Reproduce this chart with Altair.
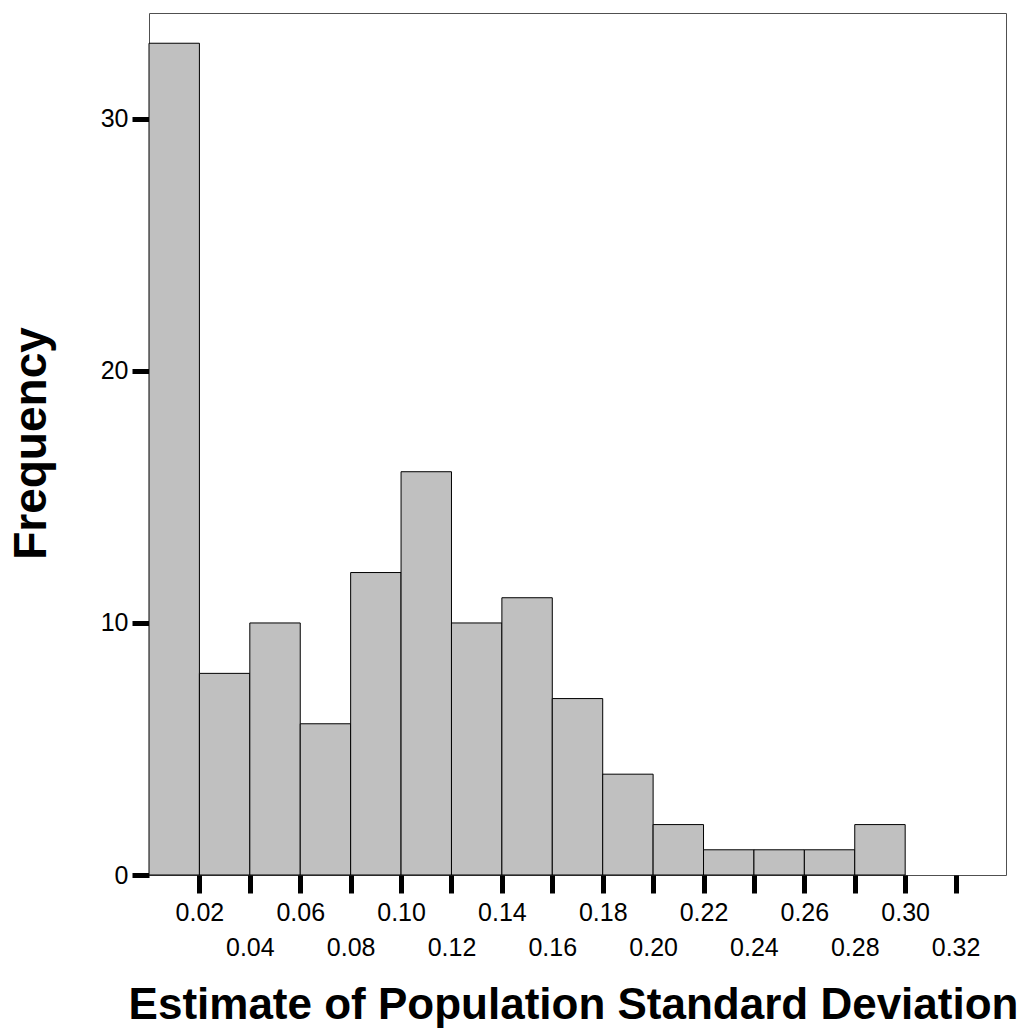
import altair as alt
import pandas as pd

# Histogram data (bins of width 0.02)
bin_start = [0.00, 0.02, 0.04, 0.06, 0.08, 0.10, 0.12, 0.14, 0.16, 0.18, 0.20, 0.22, 0.24, 0.26, 0.28]
counts = [33, 8, 10, 6, 12, 16, 10, 11, 7, 4, 2, 1, 1, 1, 2]
bin_width = 0.02
x_ticks = [0.02, 0.04, 0.06, 0.08, 0.10, 0.12, 0.14, 0.16, 0.18, 0.20, 0.22, 0.24, 0.26, 0.28, 0.30, 0.32]
y_ticks = [0, 10, 20, 30]

df = pd.DataFrame({
    "start": bin_start,
    "end": [round(s + bin_width, 2) for s in bin_start],
    "count": counts,
})

FONT = "Liberation Sans"

chart = alt.Chart(df).mark_bar(
    color="#c0c0c0", stroke="black", strokeWidth=1
).encode(
    x=alt.X(
        "start:Q",
        scale=alt.Scale(domain=[0, 0.34], nice=False, zero=False),
        axis=alt.Axis(
            values=x_ticks,
            format=".2f",
            title="Estimate of Population Standard Deviation",
            grid=False,
            domain=False,
            tickSize=18,
            tickWidth=5,
            tickColor="black",
            labelFont=FONT,
            labelFontSize=25,
            labelColor="black",
            labelPadding={"condition": {"test": "round(datum.value*100) % 4 == 0", "value": 42}, "value": 7},
            titleFont=FONT,
            titleFontSize=44,
            titleFontWeight="bold",
            titleColor="black",
            titleBaseline="alphabetic",
            titleAlign="center",
            titleX=424,
            titleY=143,
        ),
    ),
    x2="end:Q",
    y=alt.Y(
        "count:Q",
        scale=alt.Scale(domain=[0, 34.2], nice=False),
        axis=alt.Axis(
            values=y_ticks,
            title="Frequency",
            grid=False,
            domain=False,
            tickSize=17,
            tickWidth=5,
            tickColor="black",
            labelFont=FONT,
            labelFontSize=25,
            labelColor="black",
            labelPadding=4,
            titleFont=FONT,
            titleFontSize=46,
            titleFontWeight="bold",
            titleColor="black",
            titleAngle=270,
            titleBaseline="alphabetic",
            titleAlign="center",
            titleX=-104,
            titleY=430,
        ),
    ),
    y2=alt.datum(0),
).properties(
    width=857,
    height=862,
    autosize=alt.AutoSizeParams(type="none"),
    padding={"left": 149, "top": 13, "right": 28, "bottom": 157},
    background="white",
).configure_view(
    stroke="#505050", strokeWidth=1
)

chart.save("out.html", embed_options={"renderer": "svg", "actions": False})
